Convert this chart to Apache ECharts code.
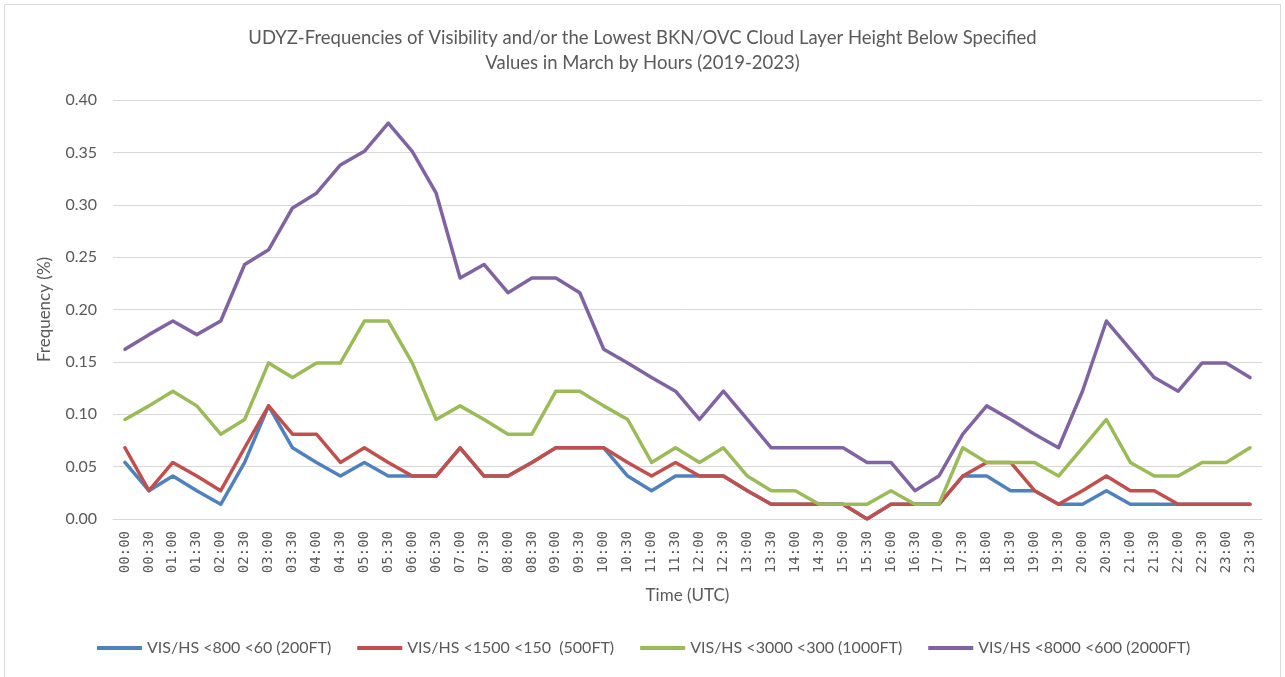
<!DOCTYPE html>
<html>
<head>
<meta charset="utf-8">
<script src="https://cdn.jsdelivr.net/npm/echarts@6/dist/echarts.min.js"></script>
<style>
  html, body { margin: 0; padding: 0; background: #fff; }
  #chart_id { width: 1285px; height: 677px; }
</style>
</head>
<body>
<div id="chart_id"></div>
<script>
// categories: half-hour slots in UTC
const times = [
  '00:00', '00:30', '01:00', '01:30', '02:00', '02:30', '03:00', '03:30',
  '04:00', '04:30', '05:00', '05:30', '06:00', '06:30', '07:00', '07:30',
  '08:00', '08:30', '09:00', '09:30', '10:00', '10:30', '11:00', '11:30',
  '12:00', '12:30', '13:00', '13:30', '14:00', '14:30', '15:00', '15:30',
  '16:00', '16:30', '17:00', '17:30', '18:00', '18:30', '19:00', '19:30',
  '20:00', '20:30', '21:00', '21:30', '22:00', '22:30', '23:00', '23:30',
];

const seriesNames = [
  'VIS/HS <800 <60 (200FT)',
  'VIS/HS <1500 <150  (500FT)',
  'VIS/HS <3000 <300 (1000FT)',
  'VIS/HS <8000 <600 (2000FT)',
];

const vis800 = [
  0.054, 0.027, 0.041, 0.027, 0.014, 0.054, 0.108, 0.068,
  0.054, 0.041, 0.054, 0.041, 0.041, 0.041, 0.068, 0.041,
  0.041, 0.054, 0.068, 0.068, 0.068, 0.041, 0.027, 0.041,
  0.041, 0.041, 0.027, 0.014, 0.014, 0.014, 0.014, 0.000,
  0.014, 0.014, 0.014, 0.041, 0.041, 0.027, 0.027, 0.014,
  0.014, 0.027, 0.014, 0.014, 0.014, 0.014, 0.014, 0.014,
];

const vis1500 = [
  0.068, 0.027, 0.054, 0.041, 0.027, 0.068, 0.108, 0.081,
  0.081, 0.054, 0.068, 0.054, 0.041, 0.041, 0.068, 0.041,
  0.041, 0.054, 0.068, 0.068, 0.068, 0.054, 0.041, 0.054,
  0.041, 0.041, 0.027, 0.014, 0.014, 0.014, 0.014, 0.000,
  0.014, 0.014, 0.014, 0.041, 0.054, 0.054, 0.027, 0.014,
  0.027, 0.041, 0.027, 0.027, 0.014, 0.014, 0.014, 0.014,
];

const vis3000 = [
  0.095, 0.108, 0.122, 0.108, 0.081, 0.095, 0.149, 0.135,
  0.149, 0.149, 0.189, 0.189, 0.149, 0.095, 0.108, 0.095,
  0.081, 0.081, 0.122, 0.122, 0.108, 0.095, 0.054, 0.068,
  0.054, 0.068, 0.041, 0.027, 0.027, 0.014, 0.014, 0.014,
  0.027, 0.014, 0.014, 0.068, 0.054, 0.054, 0.054, 0.041,
  0.068, 0.095, 0.054, 0.041, 0.041, 0.054, 0.054, 0.068,
];

const vis8000 = [
  0.162, 0.176, 0.189, 0.176, 0.189, 0.243, 0.257, 0.297,
  0.311, 0.338, 0.351, 0.378, 0.351, 0.311, 0.230, 0.243,
  0.216, 0.230, 0.230, 0.216, 0.162, 0.149, 0.135, 0.122,
  0.095, 0.122, 0.095, 0.068, 0.068, 0.068, 0.068, 0.054,
  0.054, 0.027, 0.041, 0.081, 0.108, 0.095, 0.081, 0.068,
  0.122, 0.189, 0.162, 0.135, 0.122, 0.149, 0.149, 0.135,
];

const yTicks = [0, 0.05, 0.10, 0.15, 0.20, 0.25, 0.30, 0.35, 0.40];

const titleLines = [
  'UDYZ-Frequencies of Visibility and/or the Lowest BKN/OVC Cloud Layer Height Below Specified',
  'Values in March by Hours (2019-2023)',
];

const lineColors = ['#4f81bd', '#c0504d', '#9bbb59', '#8064a2'];
const fontFam = 'Lato, "Open Sans", sans-serif';
const monoFam = '"DejaVu Sans Mono", "Liberation Mono", monospace';
const textColor = '#595959';

const myChart = echarts.init(document.getElementById('chart_id'));

const seriesData = [vis800, vis1500, vis3000, vis8000];

const option = {
  animation: false,
  textStyle: { fontFamily: fontFam },
  // one title per line so both stay centred
  title: titleLines.map((line, i) => ({
    text: line,
    left: 'center',
    top: 29 + i * 25,
    padding: 0,
    textStyle: {
      fontFamily: fontFam,
      fontWeight: 'normal',
      fontSize: 18.5,
      color: textColor,
    },
  })),
  graphic: [
    {
      type: 'rect',
      shape: { x: 4.5, y: 4.5, width: 1276, height: 690 },
      style: { fill: 'none', stroke: '#d9d9d9', lineWidth: 1 },
      silent: true,
    },
  ],
  legend: {
    data: seriesNames,
    left: 97,
    top: 640,
    padding: 0,
    icon: 'rect',
    itemWidth: 45,
    itemHeight: 4,
    itemGap: 26,
    textStyle: {
      fontFamily: fontFam,
      fontSize: 16,
      color: textColor,
    },
  },
  grid: {
    left: 113,
    right: 23,
    top: 100,
    bottom: 158,
    containLabel: false,
  },
  xAxis: {
    type: 'category',
    data: times,
    boundaryGap: true,
    name: 'Time (UTC)',
    nameLocation: 'middle',
    nameGap: 68,
    nameTextStyle: { fontFamily: fontFam, fontSize: 17, color: textColor },
    axisLine: { lineStyle: { color: '#d9d9d9', width: 1 } },
    axisTick: { show: false },
    axisLabel: {
      interval: 0,
      rotate: 90,
      margin: 12,
      fontFamily: monoFam,
      fontSize: 14,
      color: textColor,
    },
  },
  yAxis: {
    type: 'value',
    min: 0,
    max: 0.40,
    interval: 0.05,
    name: 'Frequency (%)',
    nameLocation: 'middle',
    nameGap: 60,
    nameRotate: 90,
    nameTextStyle: { fontFamily: fontFam, fontSize: 17, color: textColor },
    axisLine: { show: false },
    axisTick: { show: false },
    axisLabel: {
      margin: 16,
      fontFamily: fontFam,
      fontSize: 16,
      color: textColor,
      formatter: (value) => {
        // snap to the listed tick labels
        const t = yTicks.find((v) => Math.abs(v - value) < 1e-6);
        return (t !== undefined ? t : value).toFixed(2);
      },
    },
    splitLine: { lineStyle: { color: '#d9d9d9', width: 1 } },
  },
  series: seriesNames.map((name, i) => ({
    name: name,
    type: 'line',
    data: seriesData[i],
    showSymbol: false,
    symbol: 'none',
    color: lineColors[i],
    lineStyle: { width: 3.5, color: lineColors[i], cap: 'round', join: 'round' },
    z: 2 + i,
  })),
};

myChart.setOption(option);
window.onresize = myChart.resize;
</script>
</body>
</html>
